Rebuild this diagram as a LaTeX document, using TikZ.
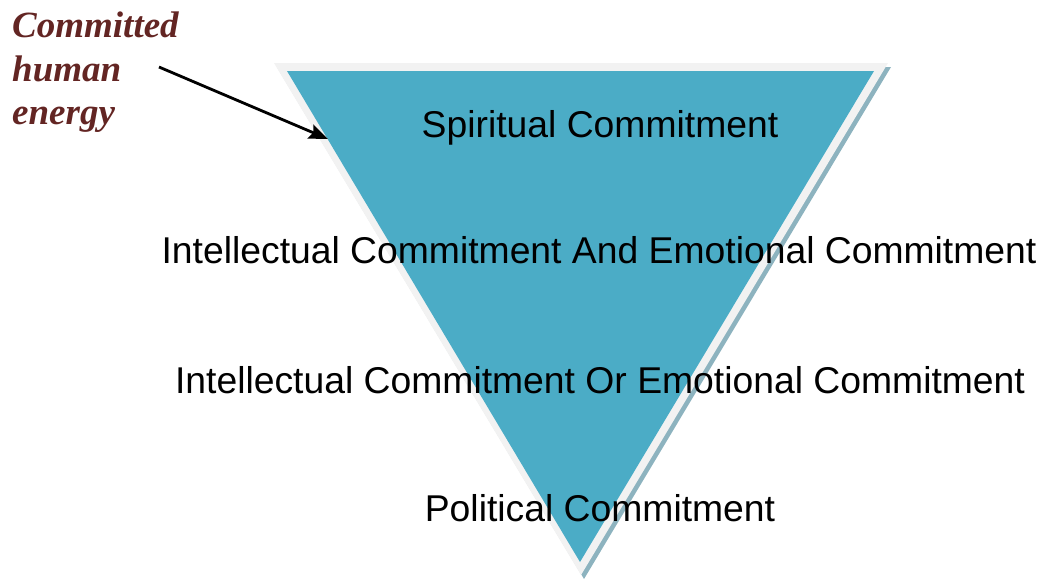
\documentclass[tikz,border=0pt]{standalone}
\usepackage{fontspec}
\setmainfont{Liberation Sans}
\newfontfamily\energyfont{Liberation Serif}
\usetikzlibrary{arrows.meta}
\definecolor{triblue}{HTML}{4BACC6}
\definecolor{triedge}{HTML}{F2F2F2}
\definecolor{trishade}{HTML}{8DB3BF}
\definecolor{energyred}{HTML}{632523}
\tikzset{level/.style={font=\fontsize{37.3}{40}\selectfont, inner sep=0pt, anchor=base},
  energy/.style={font=\energyfont\bfseries\itshape\fontsize{37}{43.5}\selectfont, text=energyred, align=left, inner sep=0pt, anchor=north west}}

\begin{document}
\begin{tikzpicture}[x=1pt,y=-1pt]
\useasboundingbox (0,0) rectangle (1042,579);
% inverted triangle with edge and shadow
\fill[trishade] (277,67)--(891,67)--(584,579)--cycle;
\fill[triedge] (274,63)--(888,63)--(581,575)--cycle;
\fill[triblue] (287,71)--(874,71)--(580,562)--cycle;

\node[level] (spirit) at (600,137) {Spiritual Commitment};
\node[level] (andline) at (599,263) {Intellectual Commitment And Emotional Commitment};
\node[level] (orline) at (600,393) {Intellectual Commitment Or Emotional Commitment};
\node[level] (polit) at (600,521) {Political Commitment};

\node[energy] (human) at (12,12) {Committed\\human\\energy};
\coordinate (tail) at (159,67);
\coordinate (tip) at (328,139);
\draw[-{Stealth[length=19pt,width=15pt,inset=3pt]}, line width=2.8pt] (tail) -- (tip);
\end{tikzpicture}
\end{document}
